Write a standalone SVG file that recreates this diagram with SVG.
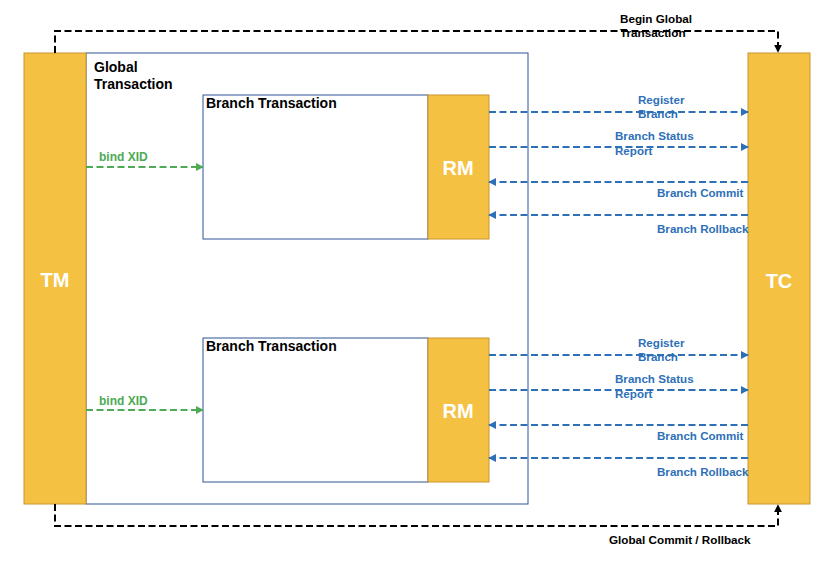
<svg xmlns="http://www.w3.org/2000/svg" width="821" height="578" viewBox="0 0 821 578">
<style>
.y{fill:#F5C142;stroke:#C9962E;stroke-width:1}
.box{fill:#fff;stroke:#2F5597;stroke-width:1}
.big{font-family:"Liberation Sans",Arial,sans-serif;font-weight:bold;font-size:20px;fill:#fff;text-anchor:middle}
.t{font-family:"Liberation Sans",Arial,sans-serif;font-weight:bold;font-size:14px;fill:#000}
.bl{font-family:"Liberation Sans",Arial,sans-serif;font-weight:bold;font-size:11.6px;fill:#2E70B8}
.gr{font-family:"Liberation Sans",Arial,sans-serif;font-weight:bold;font-size:12px;fill:#4EAA55}
.n{font-family:"Liberation Sans Narrow","Liberation Sans",Arial,sans-serif;font-stretch:condensed;font-weight:bold;font-size:11.7px;fill:#000}
.bd{fill:none;stroke:#2E70B8;stroke-width:2;stroke-dasharray:7,3.5}
.gd{fill:none;stroke:#4EAA55;stroke-width:2;stroke-dasharray:7,3.5}
.kd{fill:none;stroke:#000;stroke-width:2;stroke-dasharray:7,3.5}
</style>
<defs>
<marker id="ab" viewBox="0 0 10 10" refX="9" refY="5" markerWidth="4" markerHeight="4" orient="auto"><path d="M0,0L10,5L0,10z" fill="#2E70B8"/></marker>
<marker id="ag" viewBox="0 0 10 10" refX="9" refY="5" markerWidth="4" markerHeight="4" orient="auto"><path d="M0,0L10,5L0,10z" fill="#4EAA55"/></marker>
<marker id="ak" viewBox="0 0 10 10" refX="9" refY="5" markerWidth="4" markerHeight="4" orient="auto"><path d="M0,0L10,5L0,10z" fill="#000"/></marker>
</defs>
<rect width="821" height="578" fill="#fff"/>
<g id="global">
<rect class="box" x="86" y="53" width="442" height="451"/>
<text class="t" x="94" y="72">Global</text>
<text class="t" x="94" y="89">Transaction</text>
</g>
<g id="tm"><rect class="y" x="24" y="53" width="62" height="451"/><text class="big" x="55" y="287">TM</text></g>
<g id="tc"><rect class="y" x="748" y="53" width="62" height="451"/><text class="big" x="779" y="288">TC</text></g>
<g id="branch1">
<rect class="box" x="203" y="95" width="225" height="144"/>
<text class="t" x="206" y="108">Branch Transaction</text>
</g>
<g id="rm1"><rect class="y" x="428" y="95" width="61" height="144"/><text class="big" x="458" y="175">RM</text></g>
<g id="branch2">
<rect class="box" x="203" y="338" width="225" height="144"/>
<text class="t" x="206" y="351">Branch Transaction</text>
</g>
<g id="rm2"><rect class="y" x="428" y="338" width="61" height="144"/><text class="big" x="458" y="418">RM</text></g>
<g id="connectors">
<path class="kd" d="M55,53V31H778V52" marker-end="url(#ak)"/>
<path class="kd" d="M55,504V526H778V505" marker-end="url(#ak)"/>
<path class="gd" d="M86,167H203" marker-end="url(#ag)"/>
<path class="gd" d="M86,410H203" marker-end="url(#ag)"/>
<path class="bd" d="M489,112H748" marker-end="url(#ab)"/>
<path class="bd" d="M489,147H748" marker-end="url(#ab)"/>
<path class="bd" d="M748,182H489" marker-end="url(#ab)"/>
<path class="bd" d="M748,215H489" marker-end="url(#ab)"/>
<path class="bd" d="M489,355H748" marker-end="url(#ab)"/>
<path class="bd" d="M489,390H748" marker-end="url(#ab)"/>
<path class="bd" d="M748,425H489" marker-end="url(#ab)"/>
<path class="bd" d="M748,458H489" marker-end="url(#ab)"/>
</g>
<g id="labels">
<text class="n" x="620" y="23">Begin Global</text>
<text class="n" x="620" y="37">Transaction</text>
<text class="n" x="609" y="544">Global Commit / Rollback</text>
<text class="gr" x="99" y="161">bind XID</text>
<text class="gr" x="99" y="405">bind XID</text>
<text class="bl" x="638" y="104">Register</text>
<text class="bl" x="638" y="118">Branch</text>
<text class="bl" x="615" y="140">Branch Status</text>
<text class="bl" x="615" y="155">Report</text>
<text class="bl" x="657" y="197">Branch Commit</text>
<text class="bl" x="657" y="233">Branch Rollback</text>
<text class="bl" x="638" y="347">Register</text>
<text class="bl" x="638" y="361">Branch</text>
<text class="bl" x="615" y="383">Branch Status</text>
<text class="bl" x="615" y="398">Report</text>
<text class="bl" x="657" y="440">Branch Commit</text>
<text class="bl" x="657" y="476">Branch Rollback</text>
</g>
</svg>
